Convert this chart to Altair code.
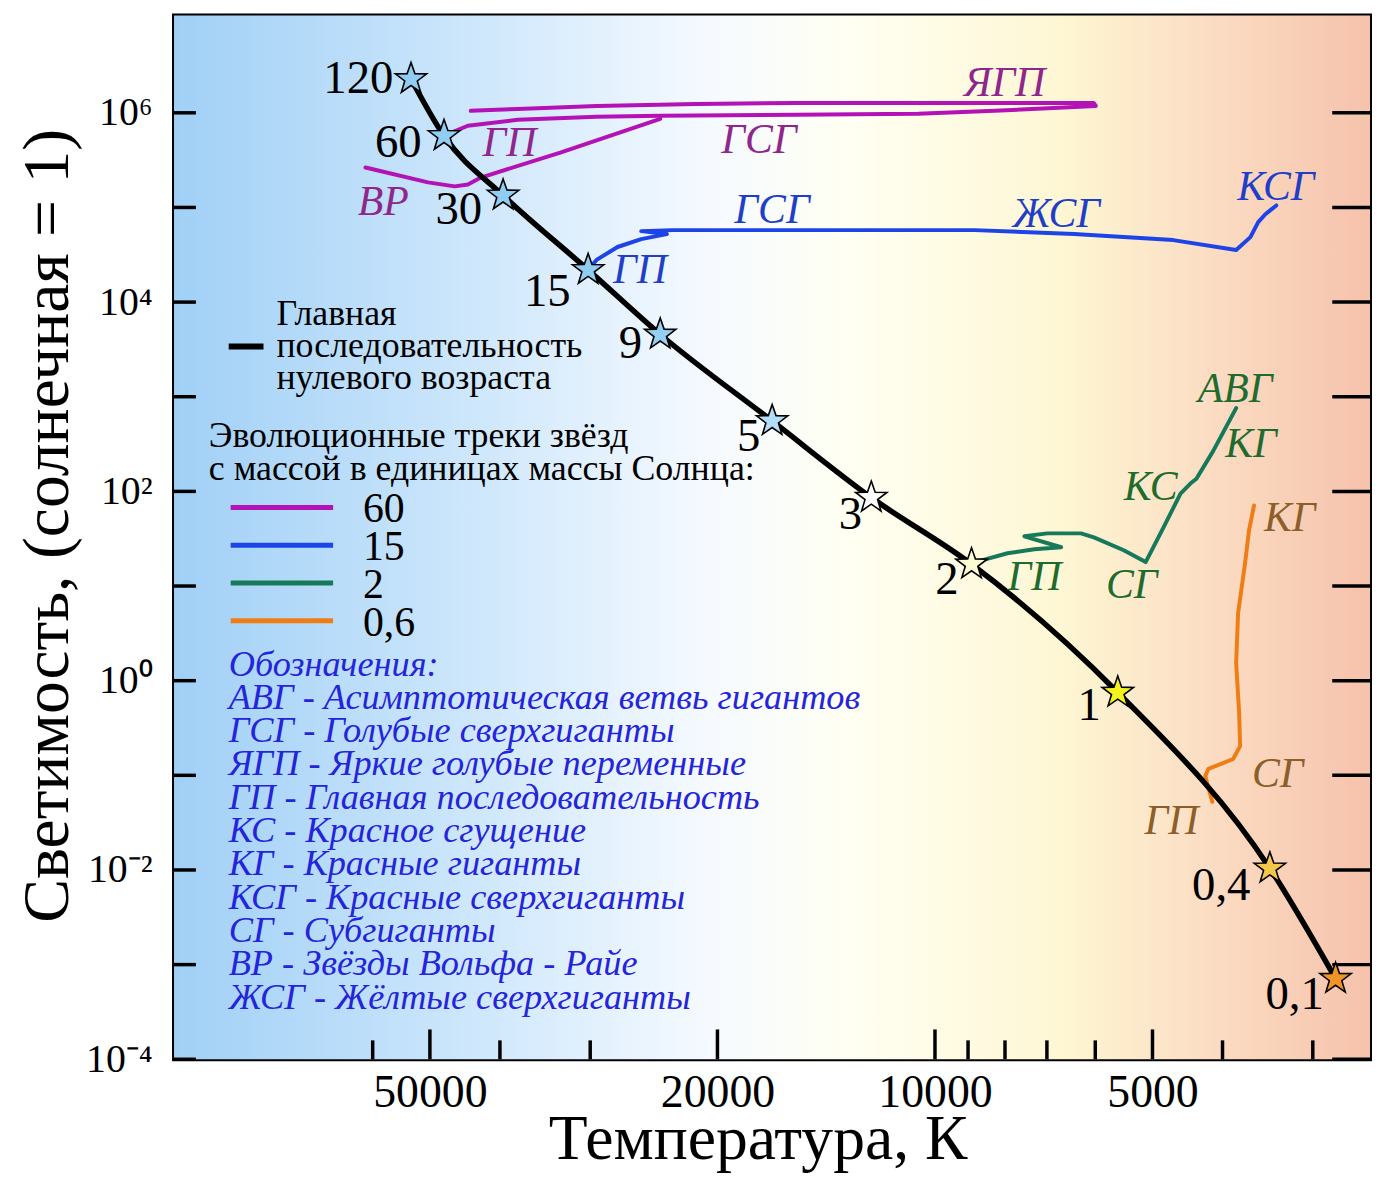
import altair as alt
import pandas as pd

W, H = 1203, 1050
SERIF = "Liberation Serif"
STAR = ("M0,-1L0.2351,-0.3236L0.9511,-0.309L0.3804,0.1236L0.5878,0.809L0,0.4"
        "L-0.5878,0.809L-0.3804,0.1236L-0.9511,-0.309L-0.2351,-0.3236Z")

# ---------------- data ----------------
masses = ["120", "60", "30", "15", "9", "5", "3", "2", "1", "0,4", "0,1"]
zams_T = [53100, 47800, 39600, 30200, 24000, 16800, 12250, 8900, 5585, 3440, 2790]
zams_L = [2.28e6, 5.7e5, 1.34e5, 2.19e4, 4550, 555, 86, 17, 0.75, 0.0104, 7.1e-4]
star_colors = ["#8fcdf3", "#8fcdf3", "#8fcdf3", "#8fcdf3", "#95d0f4", "#b4def8",
               "#ffffff", "#fdfbd2", "#f2f21e", "#f3c84a", "#f09428"]
mass_label_T = [62800, 55300, 45600, 34400, 26400, 18100, 13090, 9627, 6120, 4016, 3178]
mass_label_L = [2.28e6, 4.84e5, 9.35e4, 1.29e4, 3570, 376, 55.7, 11.6, 0.536, 0.00673, 0.000482]

tracks = ["60", "15", "2", "0,6"]
track_colors = ["#b212b6", "#1c44e6", "#167a5a", "#f07d14"]
track_label_colors = ["#8e268c", "#1f3fc8", "#1f6b2e", "#8b5e2a"]

# 60 Msun: main sequence + LBV excursion
t60a_T = [47800, 44300, 37800, 29400, 24000, 15600, 10550, 8270, 5990, 6030, 8270, 15600, 21400, 29400, 37800, 43900]
t60a_L = [5.73e5, 7.3e5, 8.44e5, 9.08e5, 9.3e5, 9.53e5, 9.76e5, 1.05e6, 1.18e6, 1.27e6, 1.27e6, 1.27e6, 1.24e6, 1.18e6, 1.10e6, 1.05e6]
# 60 Msun: return towards Wolf-Rayet
t60b_T = [24000, 33000, 42500, 44300, 46200, 50300, 61400]
t60b_L = [8.65e5, 3.8e5, 2.07e5, 1.75e5, 1.67e5, 1.84e5, 2.64e5]
# 15 Msun
t15_T = [30200, 29400, 27500, 25500, 23500, 25500, 23100, 15600, 8810, 6420, 4680, 3830, 3660, 3570, 3490, 3370]
t15_L = [2.19e4, 2.79e4, 3.82e4, 4.63e4, 5.23e4, 5.62e4, 5.76e4, 5.76e4, 5.76e4, 5.23e4, 4.52e4, 3.55e4, 4.86e4, 6.99e4, 8.48e4, 1.05e5]
# 2 Msun
t2_T = [8900, 8618, 7936, 7285, 6688, 7520, 6993, 6279, 6026, 5480, 5110, 4827, 4573, 4431, 4347, 4120, 3830]
t2_L = [17, 18.7, 22.2, 24.5, 25.7, 33.5, 36.0, 36.0, 32.7, 23.9, 17.9, 41.7, 94.8, 121, 136, 268, 759]
# 0.6 Msun
t06_T = [4132, 4226, 4185, 3867, 3782, 3794, 3830, 3806, 3723, 3676, 3618]
t06_L = [0.0526, 0.0986, 0.1168, 0.1487, 0.2037, 0.4634, 1.553, 5.20, 17.4, 38.7, 70.9]

track_label_text = ["ЯГП", "ГСГ", "ГП", "ВР",
                    "ГСГ", "ЖСГ", "КСГ", "ГП",
                    "АВГ", "КГ", "КС", "ГП", "СГ",
                    "КГ", "СГ", "ГП"]
track_label_track = ["60", "60", "60", "60",
                     "15", "15", "15", "15",
                     "2", "2", "2", "2", "2",
                     "0,6", "0,6", "0,6"]
track_label_T = [8010, 17520, 38800, 58000,
                 16810, 6795, 3375, 25610,
                 3843, 3652, 5029, 7285, 5341,
                 3228, 3354, 4707]
track_label_L = [2.07e6, 5.2e5, 4.84e5, 1.13e5,
                 9.35e4, 8.48e4, 1.63e5, 2.19e4,
                 1202, 318, 112, 12.4, 10.2,
                 51.8, 0.1034, 0.0332]

x_major = [50000, 20000, 10000, 5000]
x_minor = [60000, 40000, 30000, 9000, 8000, 7000, 6000, 4000, 3000]
y_decades = [1e-4, 1e-3, 1e-2, 1e-1, 1, 10, 100, 1e3, 1e4, 1e5, 1e6]
y_label_values = [1e-4, 1e-2, 1, 1e2, 1e4, 1e6]
y_label_text = ["10⁻⁴", "10⁻²", "10⁰", "10²", "10⁴", "10⁶"]

legend_zams = ["Главная", "последовательность", "нулевого возраста"]
legend_tracks_title = ["Эволюционные треки звёзд", "с массой в единицах массы Солнца:"]
abbrev_lines = [
    "Обозначения:",
    "АВГ - Асимптотическая ветвь гигантов",
    "ГСГ - Голубые сверхгиганты",
    "ЯГП - Яркие голубые переменные",
    "ГП - Главная последовательность",
    "КС - Красное сгущение",
    "КГ - Красные гиганты",
    "КСГ - Красные сверхгиганты",
    "СГ - Субгиганты",
    "ВР - Звёзды Вольфа - Райе",
    "ЖСГ - Жёлтые сверхгиганты",
]

# ---------------- tables ----------------
zams_df = pd.DataFrame({"mass": masses, "T": zams_T, "L": zams_L, "idx": list(range(len(masses)))})
mass_lab_df = pd.DataFrame({"mlabel": masses, "T": mass_label_T, "L": mass_label_L})

rows = []
for trk, seg, Ts, Ls in [("60", "60a", t60a_T, t60a_L), ("60", "60b", t60b_T, t60b_L),
                         ("15", "15", t15_T, t15_L), ("2", "2", t2_T, t2_L),
                         ("0,6", "06", t06_T, t06_L)]:
    for i, (t, l) in enumerate(zip(Ts, Ls)):
        rows.append({"track": trk, "seg": seg, "idx": i, "T": t, "L": l})
tracks_df = pd.DataFrame(rows)
tlab_df = pd.DataFrame({"text": track_label_text, "trk": track_label_track,
                        "T": track_label_T, "L": track_label_L})
xmaj_df = pd.DataFrame({"T": x_major})
xmin_df = pd.DataFrame({"T": x_minor})
ydec_df = pd.DataFrame({"L": y_decades})
one = pd.DataFrame({"a": [0]})

# ---------------- scales & axes ----------------
x_scale = alt.Scale(type="log", domain=[2500, 113000], reverse=True, nice=False)
y_scale = alt.Scale(type="log", domain=[1e-4, 1.07e7], nice=False)

label_expr = ""
for v, t in zip(y_label_values[:-1], y_label_text[:-1]):
    label_expr += f"datum.value < {v * 3:g} ? '{t}' : "
label_expr += f"'{y_label_text[-1]}'"

x_axis = alt.Axis(values=x_major, format="d", ticks=False, domain=False, grid=False,
                  labelFont=SERIF, labelFontSize=46, labelColor="black", labelPadding=12,
                  labelFlush=False, labelOverlap=False, orient="bottom",
                  title="Температура, К", titleFont=SERIF, titleFontSize=64,
                  titleFontWeight="normal", titleColor="black",
                  titleX=587, titleY=100, titleBaseline="alphabetic", titleAlign="center")
y_axis = alt.Axis(values=y_label_values, labelExpr=label_expr, ticks=False, domain=False, grid=False,
                  labelFont=SERIF, labelFontSize=40, labelColor="black", labelPadding=22,
                  labelFlush=False, labelOverlap=False, orient="left",
                  title="Светимость, (солнечная = 1)", titleFont=SERIF, titleFontSize=66,
                  titleFontWeight="normal", titleColor="black", titleAngle=270,
                  titleX=-127, titleY=513, titleAlign="center", titleBaseline="middle")

X = alt.X("T:Q", scale=x_scale, axis=x_axis)
Y = alt.Y("L:Q", scale=y_scale, axis=y_axis)

# ---------------- layers ----------------
gradient = alt.LinearGradient(
    gradient="linear", x1=0, y1=0, x2=1, y2=0,
    stops=[alt.GradientStop(offset=0.0, color="#a1d0f6"),
           alt.GradientStop(offset=0.22, color="#c8e4fb"),
           alt.GradientStop(offset=0.45, color="#f6faff"),
           alt.GradientStop(offset=0.56, color="#fffff3"),
           alt.GradientStop(offset=0.74, color="#fef7d4"),
           alt.GradientStop(offset=0.87, color="#fbdcc2"),
           alt.GradientStop(offset=1.0, color="#f6c2ac")])

bg = alt.Chart(one).mark_rect(color=gradient).encode(
    x=alt.value(0), x2=alt.value(W), y=alt.value(0), y2=alt.value(H))

tick_style = dict(color="black", strokeWidth=3.5)
xmaj = alt.Chart(xmaj_df).mark_rule(**tick_style).encode(x=X, y=alt.value(H), y2=alt.value(H - 30))
xmin = alt.Chart(xmin_df).mark_rule(**tick_style).encode(x=X, y=alt.value(H), y2=alt.value(H - 19))
yl = alt.Chart(ydec_df).mark_rule(**tick_style).encode(y=Y, x=alt.value(0), x2=alt.value(22))
yr = alt.Chart(ydec_df).mark_rule(**tick_style).encode(y=Y, x=alt.value(W - 38), x2=alt.value(W))

track_lines = alt.Chart(tracks_df).mark_line(strokeWidth=4, strokeJoin="round", strokeCap="round").encode(
    x=X, y=Y,
    stroke=alt.Stroke("track:N", scale=alt.Scale(domain=tracks, range=track_colors), legend=None),
    detail="seg:N", order="idx:Q")

zams_line = alt.Chart(zams_df).mark_line(color="black", strokeWidth=5.5, interpolate="monotone").encode(
    x=X, y=Y, order="idx:Q")

stars = alt.Chart(zams_df).mark_point(shape=STAR, filled=True, size=1100, stroke="black",
                                      strokeWidth=1.6, opacity=1).encode(
    x=X, y=Y,
    fill=alt.Fill("mass:N", scale=alt.Scale(domain=masses, range=star_colors), legend=None))

mass_labels = alt.Chart(mass_lab_df).mark_text(font=SERIF, fontSize=47, color="black",
                                               align="center", baseline="middle").encode(
    x=X, y=Y, text="mlabel:N")

track_labels = alt.Chart(tlab_df).mark_text(font=SERIF, fontSize=42, fontStyle="italic",
                                            align="center", baseline="middle").encode(
    x=X, y=Y, text="text:N",
    color=alt.Color("trk:N", scale=alt.Scale(domain=tracks, range=track_label_colors), legend=None))

# legend (layout in plot pixels; y is the first line's centre)
leg_layers = []
leg_layers.append(alt.Chart(one).mark_rule(color="black", strokeWidth=6).encode(
    x=alt.value(55), x2=alt.value(90), y=alt.value(333)))
leg_layers.append(alt.Chart(one).mark_text(text=legend_zams, font=SERIF, fontSize=36, lineHeight=32.5,
                                           align="left", baseline="middle", color="black").encode(
    x=alt.value(103), y=alt.value(300)))
leg_layers.append(alt.Chart(one).mark_text(text=legend_tracks_title, font=SERIF, fontSize=36, lineHeight=33,
                                           align="left", baseline="middle", color="black").encode(
    x=alt.value(35), y=alt.value(423)))
for i, (name, col) in enumerate(zip(tracks, track_colors)):
    yy = 495 + 38 * i
    leg_layers.append(alt.Chart(one).mark_rule(color=col, strokeWidth=5).encode(
        x=alt.value(57), x2=alt.value(160), y=alt.value(yy)))
    leg_layers.append(alt.Chart(one).mark_text(text=name, font=SERIF, fontSize=42, align="left",
                                               baseline="middle", color="black").encode(
        x=alt.value(190), y=alt.value(yy + 2)))
leg_layers.append(alt.Chart(one).mark_text(text=abbrev_lines, font=SERIF, fontSize=36.5, fontStyle="italic",
                                           lineHeight=33.5, align="left", baseline="middle",
                                           color="#2424dc").encode(
    x=alt.value(55), y=alt.value(653)))

chart = alt.layer(bg, xmaj, xmin, yl, yr, track_lines, zams_line, stars, mass_labels, track_labels,
                  *leg_layers).resolve_scale(color="independent", fill="independent",
                                             stroke="independent").properties(
    width=W, height=H,
    autosize=alt.AutoSizeParams(type="none"),
    padding={"left": 167, "top": 4, "right": 3, "bottom": 114},
).configure_view(stroke="black", strokeWidth=4)

chart.save("out.html", embed_options={"renderer": "svg", "actions": False})
